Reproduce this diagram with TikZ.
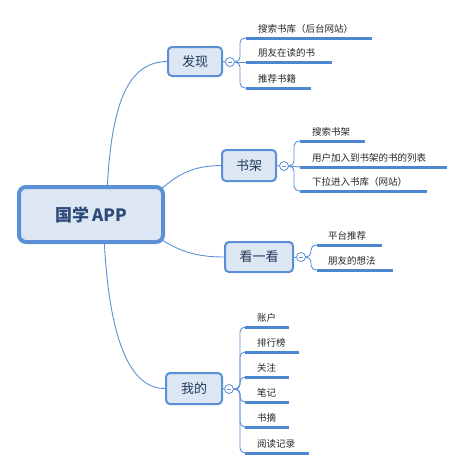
\documentclass[tikz,border=0pt]{standalone}
\usepackage{fontspec}
\setmainfont{Noto Sans CJK SC}
\usetikzlibrary{calc,backgrounds}
\definecolor{edge}{HTML}{5B8FD6}
\definecolor{boxfill}{HTML}{DDE7F3}
\definecolor{boxtext}{HTML}{2B4A78}
\definecolor{under}{HTML}{4C87D2}
\tikzset{
 mainbox/.style={draw=edge, line width=4pt, fill=boxfill, rounded corners=7pt, minimum width=144pt, minimum height=55pt, inner sep=0pt, font=\fontsize{17}{20}\selectfont\bfseries, text=boxtext},
 branch/.style={draw=edge, line width=2pt, fill=boxfill, rounded corners=4pt, inner sep=0pt, font=\fontsize{13}{15}\selectfont, text=boxtext!75!black},
 leaf/.style={font=\fontsize{9.5}{11}\selectfont, text=black!85, inner sep=0pt, anchor=base west},
 link/.style={draw=edge, line width=0.9pt},
 uline/.style={draw=under, line width=3pt},
 fold/.style={circle, draw=edge, fill=white, line width=0.8pt, minimum size=9pt, inner sep=0pt,
   path picture={\draw[edge, line width=0.7pt] ([xshift=-2.2pt]path picture bounding box.center) -- ([xshift=2.2pt]path picture bounding box.center);}},
 sub/.style={draw=edge, line width=0.9pt, rounded corners=5pt},
}
\begin{document}
\begin{tikzpicture}[x=1pt, y=-1pt]
\useasboundingbox (0,0) rectangle (464,469);
% main and branches
\node[mainbox] (main) at (91,214.5) {国学\kern3pt APP};
\node[branch, minimum width=54pt, minimum height=29pt] (fx) at (195,61.5) {发现};
\node[branch, minimum width=54pt, minimum height=31pt] (sj) at (249,165.5) {书架};
\node[branch, minimum width=68pt, minimum height=30pt] (kyk) at (259,257) {看一看};
\node[branch, minimum width=56pt, minimum height=31pt] (wd) at (194,388.5) {我的};
% fold circles
\node[fold] (ffx) at (230,62) {};
\node[fold] (fsj) at (284,166) {};
\node[fold] (fkyk) at (301,257) {};
\node[fold] (fwd) at (229,389) {};
% leaf coordinates and underlines
\coordinate (a1) at (246,38);  \coordinate (a1e) at (372,38);
\coordinate (a2) at (246,62);  \coordinate (a2e) at (332,62);
\coordinate (a3) at (246,88);  \coordinate (a3e) at (311,88);
\coordinate (b1) at (300,141); \coordinate (b1e) at (365,141);
\coordinate (b2) at (300,167); \coordinate (b2e) at (447,167);
\coordinate (b3) at (300,191); \coordinate (b3e) at (427,191);
\coordinate (c1) at (317,245); \coordinate (c1e) at (382,245);
\coordinate (c2) at (317,270); \coordinate (c2e) at (393,270);
\coordinate (d1) at (245,327); \coordinate (d1e) at (289,327);
\coordinate (d2) at (245,352); \coordinate (d2e) at (299,352);
\coordinate (d3) at (245,377); \coordinate (d3e) at (289,377);
\coordinate (d4) at (245,402); \coordinate (d4e) at (289,402);
\coordinate (d5) at (245,427); \coordinate (d5e) at (289,427);
\coordinate (d6) at (245,453); \coordinate (d6e) at (309,453);
\foreach \p in {a1,a2,a3,b1,b2,b3,c1,c2,d1,d2,d3,d4,d5,d6}
  \draw[uline] (\p) -- (\p e);
% leaf labels
\node[leaf] (ta1) at (258,32) {搜索书库（后台网站）};
\node[leaf] (ta2) at (258,56) {朋友在读的书};
\node[leaf] (ta3) at (258,82) {推荐书籍};
\node[leaf] (tb1) at (312,135) {搜索书架};
\node[leaf] (tb2) at (312,161) {用户加入到书架的书的列表};
\node[leaf] (tb3) at (312,185) {下拉进入书库（网站）};
\node[leaf] (tc1) at (328,239) {平台推荐};
\node[leaf] (tc2) at (328,264) {朋友的想法};
\node[leaf] (td1) at (257,321) {账户};
\node[leaf] (td2) at (257,346) {排行榜};
\node[leaf] (td3) at (257,371) {关注};
\node[leaf] (td4) at (257,396) {笔记};
\node[leaf] (td5) at (257,421) {书摘};
\node[leaf] (td6) at (257,447) {阅读记录};
% connectors
\begin{scope}[on background layer]
\draw[link] ($(main.north)+(16,8)$) .. controls (111,105) and (127,62) .. (fx.west);
\draw[link] ($(main.south)+(13,-8)$) .. controls (108,325) and (125,389) .. (wd.west);
\draw[link] ($(main.north east)+(-6,6)$) .. controls (180,172) and (195,166) .. (sj.west);
\draw[link] ($(main.south east)+(-6,-6)$) .. controls (180,252) and (198,257) .. (kyk.west);
\draw[link] (fx.east) -- (ffx.west);
\draw[link] (sj.east) -- (fsj.west);
\draw[link] (kyk.east) -- (fkyk.west);
\draw[link] (wd.east) -- (fwd.west);
\end{scope}
% sub connectors
\draw[sub] (ffx.east) -- (240,62) -- (240,38) -- (a1);
\draw[sub] (ffx.east) -- (a2);
\draw[sub] (ffx.east) -- (240,62) -- (240,88) -- (a3);
\draw[sub] (fsj.east) -- (294,166) -- (294,141) -- (b1);
\draw[sub] (fsj.east) -- (b2);
\draw[sub] (fsj.east) -- (294,166) -- (294,191) -- (b3);
\draw[sub] (fkyk.east) -- (311,257) -- (311,245) -- (c1);
\draw[sub] (fkyk.east) -- (311,257) -- (311,270) -- (c2);
\foreach \p/\y in {d1/327,d2/352,d3/377,d4/402,d5/427,d6/453}
  \draw[sub] (fwd.east) -- (240,389) -- (240,\y) -- (\p);
\end{tikzpicture}
\end{document}
